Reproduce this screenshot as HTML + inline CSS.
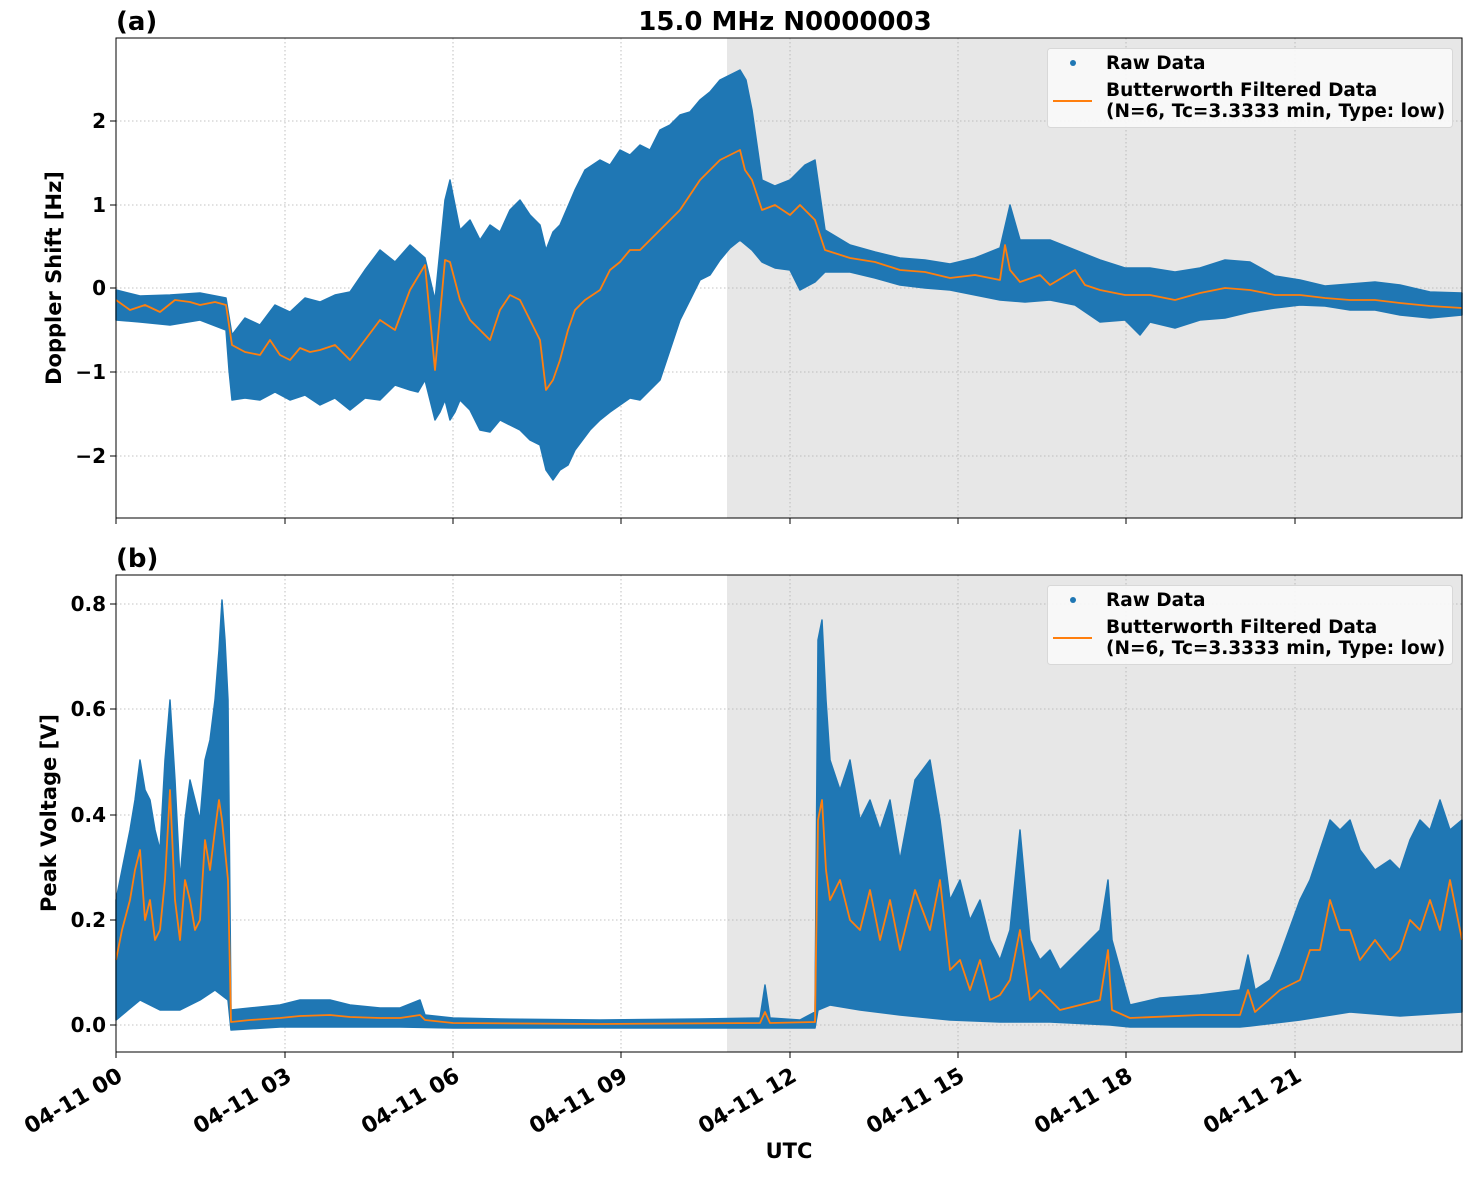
<!DOCTYPE html>
<html><head><meta charset="utf-8"><style>
body{margin:0;background:#fff}
svg text{font-family:"DejaVu Sans","Liberation Sans",sans-serif;font-weight:bold;fill:#000}
</style></head><body>
<svg width="1471" height="1172" viewBox="0 0 1471 1172" xmlns="http://www.w3.org/2000/svg">
<rect x="727" y="38" width="735" height="480" fill="#e7e7e7"/>
<rect x="727" y="575" width="735" height="477" fill="#e7e7e7"/>
<g stroke="#b0b0b0" stroke-width="0.8" stroke-dasharray="1.5,2.5">
<line x1="285" y1="38" x2="285" y2="518"/><line x1="453" y1="38" x2="453" y2="518"/><line x1="621" y1="38" x2="621" y2="518"/><line x1="790" y1="38" x2="790" y2="518"/><line x1="958" y1="38" x2="958" y2="518"/><line x1="1126" y1="38" x2="1126" y2="518"/><line x1="1295" y1="38" x2="1295" y2="518"/>
<line x1="285" y1="575" x2="285" y2="1052"/><line x1="453" y1="575" x2="453" y2="1052"/><line x1="621" y1="575" x2="621" y2="1052"/><line x1="790" y1="575" x2="790" y2="1052"/><line x1="958" y1="575" x2="958" y2="1052"/><line x1="1126" y1="575" x2="1126" y2="1052"/><line x1="1295" y1="575" x2="1295" y2="1052"/>
<line x1="116" y1="121" x2="1462" y2="121"/><line x1="116" y1="205" x2="1462" y2="205"/><line x1="116" y1="288" x2="1462" y2="288"/><line x1="116" y1="372" x2="1462" y2="372"/><line x1="116" y1="456" x2="1462" y2="456"/>
<line x1="116" y1="604" x2="1462" y2="604"/><line x1="116" y1="709" x2="1462" y2="709"/><line x1="116" y1="815" x2="1462" y2="815"/><line x1="116" y1="920" x2="1462" y2="920"/><line x1="116" y1="1025" x2="1462" y2="1025"/>
</g>
<g fill="#1f77b4" stroke="#1f77b4" stroke-width="1.5" stroke-linejoin="round">
<polygon points="116,290 140,296 170,295 200,293 226,298 232,335 245,318 260,325 275,305 290,312 305,298 320,302 335,295 350,292 365,270 380,250 395,262 410,245 425,258 435,300 445,200 450,180 460,230 470,220 480,240 490,225 500,232 510,210 520,200 530,215 540,225 546,250 553,232 560,225 575,190 585,170 600,160 610,165 620,150 630,155 640,145 650,150 660,130 670,125 680,115 690,112 700,100 710,92 720,80 730,75 740,70 746,80 752,110 762,180 775,186 790,180 805,165 815,160 825,230 850,245 875,252 900,258 925,260 950,264 975,258 1000,248 1010,205 1020,240 1050,240 1075,250 1100,260 1125,268 1150,268 1175,272 1200,268 1225,260 1250,262 1275,276 1300,280 1325,286 1350,284 1375,282 1400,285 1430,292 1462,293 1462,315 1430,318 1400,315 1375,310 1350,310 1325,306 1300,305 1275,308 1250,312 1225,318 1200,320 1175,328 1150,322 1140,335 1125,320 1100,322 1075,305 1050,300 1025,302 1000,300 975,295 950,290 925,288 900,285 875,278 850,272 825,272 815,282 800,290 790,270 775,268 762,262 752,250 740,240 730,248 720,260 710,275 700,280 690,300 680,320 670,350 660,380 650,390 640,400 630,398 620,405 610,412 600,420 590,430 575,450 568,465 560,470 553,480 546,470 540,445 530,440 520,430 510,425 500,420 490,432 480,430 470,410 460,400 455,412 450,420 445,400 440,412 435,420 430,400 425,380 418,392 410,390 395,385 380,400 365,398 350,410 335,398 320,405 305,395 290,400 275,392 260,400 245,398 232,400 229,370 226,330 200,320 170,325 140,322 116,320"/>
<polygon points="116,900 122,870 130,830 135,800 140,760 145,790 150,800 155,830 160,850 165,760 170,700 175,780 180,880 185,820 190,780 195,800 200,820 205,760 210,740 215,700 219,650 222,600 225,640 228,700 231,1010 250,1008 280,1005 300,1000 330,1000 350,1005 380,1008 400,1008 420,1000 425,1015 453,1018 500,1019 600,1020 700,1019 760,1018 765,985 770,1018 800,1020 815,1012 818,640 822,620 826,700 830,760 840,790 850,760 860,820 870,800 880,830 890,800 900,860 915,780 930,760 940,820 950,900 960,880 970,920 980,900 990,940 1000,960 1010,930 1020,830 1030,940 1040,960 1050,950 1060,970 1080,950 1100,930 1108,880 1112,940 1130,1005 1160,998 1200,995 1240,990 1248,955 1255,990 1270,980 1280,955 1300,900 1310,880 1320,850 1330,820 1340,830 1350,820 1360,850 1375,870 1390,860 1400,870 1410,840 1420,820 1430,830 1440,800 1450,830 1462,820 1462,1012 1400,1016 1350,1012 1300,1020 1250,1026 1240,1027 1130,1027 1110,1025 1050,1022 1000,1022 950,1020 900,1015 860,1010 830,1005 818,1010 815,1028 800,1028 453,1028 400,1027 330,1027 280,1027 231,1030 228,1000 215,990 200,1000 180,1010 160,1010 140,1000 116,1020"/>
</g>
<polyline fill="none" stroke="#ff7f0e" stroke-width="1.8" stroke-linejoin="round" points="116,300 130,310 145,305 160,312 175,300 190,302 200,305 215,302 226,305 232,345 245,352 260,355 270,340 280,355 290,360 300,348 310,352 320,350 335,345 350,360 365,340 380,320 395,330 410,290 425,265 435,370 445,260 450,262 460,300 470,320 480,330 490,340 500,310 510,295 520,300 530,320 540,340 546,390 553,380 560,360 568,330 575,310 585,300 600,290 610,270 620,262 630,250 640,250 650,240 660,230 670,220 680,210 690,195 700,180 710,170 720,160 730,155 740,150 745,170 752,180 762,210 775,205 790,215 800,205 815,220 825,250 850,258 875,262 900,270 925,272 950,278 975,275 1000,280 1005,245 1010,270 1020,282 1040,275 1050,285 1075,270 1085,285 1100,290 1125,295 1150,295 1175,300 1200,293 1225,288 1250,290 1275,295 1300,295 1325,298 1350,300 1375,300 1400,303 1430,306 1462,308"/>
<polyline fill="none" stroke="#ff7f0e" stroke-width="1.8" stroke-linejoin="round" points="116,960 122,930 130,900 135,870 140,850 145,920 150,900 155,940 160,930 165,880 170,790 175,900 180,940 185,880 190,900 195,930 200,920 205,840 210,870 215,830 219,800 222,820 228,880 231,1022 250,1020 280,1018 300,1016 330,1015 350,1017 380,1018 400,1018 420,1015 425,1020 453,1023 600,1024 760,1023 765,1012 770,1023 815,1022 818,820 822,800 826,870 830,900 840,880 850,920 860,930 870,890 880,940 890,900 900,950 915,890 930,930 940,880 950,970 960,960 970,990 980,960 990,1000 1000,995 1010,980 1020,930 1030,1000 1040,990 1050,1000 1060,1010 1080,1005 1100,1000 1108,950 1112,1010 1130,1018 1200,1015 1240,1015 1248,990 1255,1012 1280,990 1300,980 1310,950 1320,950 1330,900 1340,930 1350,930 1360,960 1375,940 1390,960 1400,950 1410,920 1420,930 1430,900 1440,930 1450,880 1462,940"/>
<rect x="116" y="38" width="1346" height="480" fill="none" stroke="#000" stroke-width="1"/>
<rect x="116" y="575" width="1346" height="477" fill="none" stroke="#000" stroke-width="1"/>
<g stroke="#000" stroke-width="1">
<line x1="116" y1="518" x2="116" y2="524"/><line x1="285" y1="518" x2="285" y2="524"/><line x1="453" y1="518" x2="453" y2="524"/><line x1="621" y1="518" x2="621" y2="524"/><line x1="790" y1="518" x2="790" y2="524"/><line x1="958" y1="518" x2="958" y2="524"/><line x1="1126" y1="518" x2="1126" y2="524"/><line x1="1295" y1="518" x2="1295" y2="524"/>
<line x1="116" y1="1052" x2="116" y2="1058"/><line x1="285" y1="1052" x2="285" y2="1058"/><line x1="453" y1="1052" x2="453" y2="1058"/><line x1="621" y1="1052" x2="621" y2="1058"/><line x1="790" y1="1052" x2="790" y2="1058"/><line x1="958" y1="1052" x2="958" y2="1058"/><line x1="1126" y1="1052" x2="1126" y2="1058"/><line x1="1295" y1="1052" x2="1295" y2="1058"/>
<line x1="110" y1="121" x2="116" y2="121"/><line x1="110" y1="205" x2="116" y2="205"/><line x1="110" y1="288" x2="116" y2="288"/><line x1="110" y1="372" x2="116" y2="372"/><line x1="110" y1="456" x2="116" y2="456"/>
<line x1="110" y1="604" x2="116" y2="604"/><line x1="110" y1="709" x2="116" y2="709"/><line x1="110" y1="815" x2="116" y2="815"/><line x1="110" y1="920" x2="116" y2="920"/><line x1="110" y1="1025" x2="116" y2="1025"/>
</g>
<g font-size="20" text-anchor="end">
<text x="106" y="128">2</text><text x="106" y="212">1</text><text x="106" y="295">0</text><text x="106" y="379">−1</text><text x="106" y="463">−2</text>
<text x="106" y="611">0.8</text><text x="106" y="716">0.6</text><text x="106" y="822">0.4</text><text x="106" y="927">0.2</text><text x="106" y="1032">0.0</text>
</g>
<g font-size="22" text-anchor="end">
<text transform="translate(124,1080) rotate(-30)">04-11 00</text>
<text transform="translate(293,1080) rotate(-30)">04-11 03</text>
<text transform="translate(461,1080) rotate(-30)">04-11 06</text>
<text transform="translate(629,1080) rotate(-30)">04-11 09</text>
<text transform="translate(798,1080) rotate(-30)">04-11 12</text>
<text transform="translate(966,1080) rotate(-30)">04-11 15</text>
<text transform="translate(1134,1080) rotate(-30)">04-11 18</text>
<text transform="translate(1303,1080) rotate(-30)">04-11 21</text>
</g>
<text x="116" y="30" font-size="26">(a)</text>
<text x="785" y="30" font-size="26" text-anchor="middle">15.0 MHz N0000003</text>
<text x="116" y="567" font-size="26">(b)</text>
<text x="789" y="1158" font-size="21" text-anchor="middle">UTC</text>
<text transform="translate(61,278) rotate(-90)" font-size="21" text-anchor="middle">Doppler Shift [Hz]</text>
<text transform="translate(56,813) rotate(-90)" font-size="21" text-anchor="middle">Peak Voltage [V]</text>
<rect x="1047.5" y="48.5" width="405" height="79" rx="3" fill="#fafafa" fill-opacity="0.9" stroke="#d8d8d8"/>
<circle cx="1073" cy="63" r="3" fill="#1f77b4"/>
<line x1="1053" y1="101" x2="1092" y2="101" stroke="#ff7f0e" stroke-width="2"/>
<text x="1106" y="69" font-size="18.5">Raw Data</text>
<text x="1106" y="96" font-size="18.5">Butterworth Filtered Data</text>
<text x="1106" y="117" font-size="18.5">(N=6, Tc=3.3333 min, Type: low)</text>
<rect x="1047.5" y="585.5" width="405" height="79" rx="3" fill="#fafafa" fill-opacity="0.9" stroke="#d8d8d8"/>
<circle cx="1073" cy="600" r="3" fill="#1f77b4"/>
<line x1="1053" y1="638" x2="1092" y2="638" stroke="#ff7f0e" stroke-width="2"/>
<text x="1106" y="606" font-size="18.5">Raw Data</text>
<text x="1106" y="633" font-size="18.5">Butterworth Filtered Data</text>
<text x="1106" y="654" font-size="18.5">(N=6, Tc=3.3333 min, Type: low)</text>
</svg>
</body></html>
